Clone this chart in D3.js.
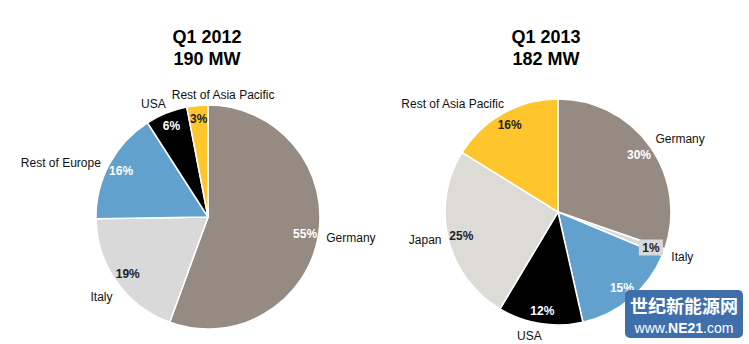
<!DOCTYPE html>
<html>
<head>
<meta charset="utf-8">
<script src="https://cdn.jsdelivr.net/npm/d3@7"></script>
<style>
  body { margin: 0; background: #fff; }
  svg { display: block; font-family: "Liberation Sans", Arial, sans-serif; }
</style>
</head>
<body>
<svg width="749" height="344"></svg>
<script>
// data
var regions2012 = ["Germany", "Italy", "Rest of Europe", "USA", "Rest of Asia Pacific"];
var shares2012 = [55, 19, 16, 6, 3];
var regions2013 = ["Germany", "Italy", "Rest of Europe", "USA", "Japan", "Rest of Asia Pacific"];
var shares2013 = [30, 1, 15, 12, 25, 16];
var titles = [["Q1 2012", "190 MW"], ["Q1 2013", "182 MW"]];

var colors = {
  "Germany": "#958b83",
  "Italy": "#d9d9d9",
  "Rest of Europe": "#62a0cd",
  "USA": "#000000",
  "Japan": "#dddbd6",
  "Rest of Asia Pacific": "#fec62c"
};
var pctColor = {
  "Germany": "#fff", "Italy": "#222", "Rest of Europe": "#fff",
  "USA": "#fff", "Japan": "#222", "Rest of Asia Pacific": "#222"
};

// label placement: radius factor and angle nudge (deg) of the name labels
// (null = name not visible, it sits under the watermark in the source)
var nameR2012 = [1.29, 1.19, 1.40, 1.12, 1.10];
var nameDa2012 = [-1.6, -1.5, -8, -4, 12.5];
var nameR2013 = [1.26, 1.17, null, 1.12, 1.20, 1.34];
var nameDa2013 = [4.5, -1, 0, 4, 2, -15];

var svg = d3.select("svg");

function drawPie(cx, cy, r, names, values, nameR, nameDa, title, titleX){
  var data = names.map((n, i) => ({name: n, value: values[i], nr: nameR[i], da: nameDa[i]}));
  var arcs = d3.pie().sort(null).value(d => d.value)(data);
  var arc = d3.arc().innerRadius(0).outerRadius(r);
  var g = svg.append("g").attr("transform", `translate(${cx},${cy})`);

  g.selectAll(".slice")
    .data(arcs)
    .enter()
    .append("path")
      .attr("d", arc)
      .attr("fill", d => colors[d.data.name])
      .attr("stroke", "#fff")
      .attr("stroke-width", 1.5);

  var pctArc = d3.arc().innerRadius(r * 0.88).outerRadius(r * 0.88);

  // small grey box behind tiny slices' labels
  g.selectAll(".pctbox")
    .data(arcs.filter(d => d.data.value < 2))
    .enter()
    .append("rect")
      .attr("x", d => pctArc.centroid(d)[0] - 12)
      .attr("y", d => pctArc.centroid(d)[1] - 8)
      .attr("width", 24)
      .attr("height", 16)
      .attr("fill", colors["Italy"]);

  g.selectAll(".pct")
    .data(arcs)
    .enter()
    .append("text")
      .attr("x", d => pctArc.centroid(d)[0])
      .attr("y", d => pctArc.centroid(d)[1])
      .attr("dy", "0.36em")
      .attr("text-anchor", "middle")
      .attr("font-size", 12)
      .attr("font-weight", "bold")
      .attr("fill", d => pctColor[d.data.name])
      .text(d => d.data.value + "%");

  g.selectAll(".name")
    .data(arcs.filter(d => d.data.nr))
    .enter()
    .append("text")
      .attr("x", d => {
        var a = (d.startAngle + d.endAngle) / 2 + d.data.da * Math.PI / 180;
        return Math.sin(a) * r * d.data.nr;
      })
      .attr("y", d => {
        var a = (d.startAngle + d.endAngle) / 2 + d.data.da * Math.PI / 180;
        return -Math.cos(a) * r * d.data.nr;
      })
      .attr("dy", "0.36em")
      .attr("text-anchor", "middle")
      .attr("font-size", 12)
      .attr("fill", "#111")
      .text(d => d.data.name);

  svg.append("text")
    .attr("x", titleX).attr("y", 43)
    .attr("text-anchor", "middle")
    .attr("font-size", 18).attr("font-weight", "bold")
    .text(title[0]);
  svg.append("text")
    .attr("x", titleX).attr("y", 65)
    .attr("text-anchor", "middle")
    .attr("font-size", 18).attr("font-weight", "bold")
    .text(title[1]);
}

drawPie(208, 217, 112, regions2012, shares2012, nameR2012, nameDa2012, titles[0], 207);
drawPie(558, 212, 113, regions2013, shares2013, nameR2013, nameDa2013, titles[1], 546);

// watermark
var wm = svg.append("g");
wm.append("rect")
  .attr("x", 625).attr("y", 290).attr("width", 118).attr("height", 48)
  .attr("rx", 5)
  .attr("fill", "#3f6fab");
wm.append("text")
  .attr("x", 684).attr("y", 313)
  .attr("text-anchor", "middle")
  .attr("font-family", "Noto Sans CJK SC")
  .attr("font-size", 18).attr("font-weight", "bold")
  .attr("fill", "#fff")
  .text("世纪新能源网");
var t = wm.append("text")
  .attr("x", 684).attr("y", 333)
  .attr("text-anchor", "middle")
  .attr("font-size", 14)
  .attr("fill", "#fff");
t.append("tspan").text("www.");
t.append("tspan").attr("font-weight", "bold").text("NE21");
t.append("tspan").text(".com");
</script>
</body>
</html>
